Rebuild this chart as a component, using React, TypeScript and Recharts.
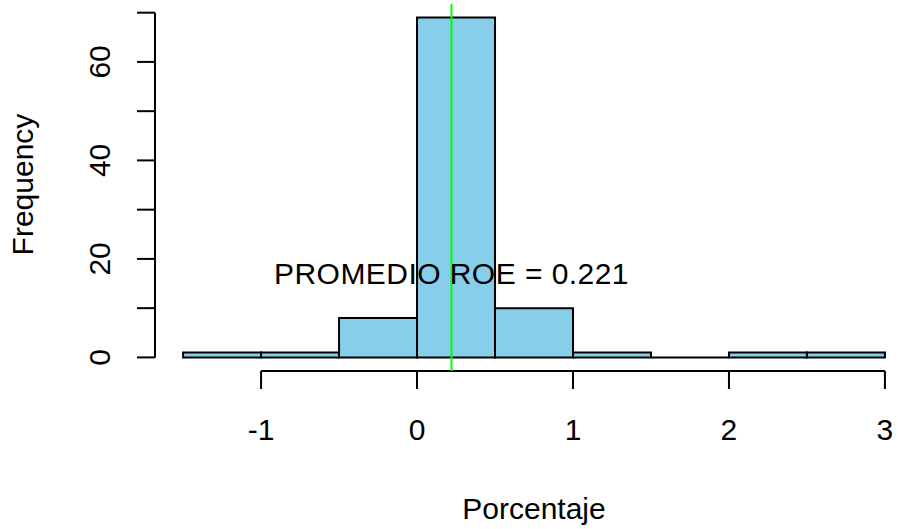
import React from 'react';
import {
  ComposedChart,
  Bar,
  XAxis,
  YAxis,
  ReferenceLine,
  ReferenceDot,
  Label,
} from 'recharts';

// histogram bins (midpoints) and their counts
const binMids = [-1.25, -0.75, -0.25, 0.25, 0.75, 1.25, 1.75, 2.25, 2.75];
const binCounts = [1, 1, 8, 69, 10, 1, 0, 1, 1];
const xTicks = [-1, 0, 1, 2, 3];
const yTicks = [0, 10, 20, 30, 40, 50, 60, 70];
const meanRoe = 0.221;
const labelY = 17;

const data = binMids.map((mid, i) => ({ mid, count: binCounts[i] }));

// R-style 4% padding around the data range
const xMin = -1.5 - 0.04 * 4.5;
const xMax = 3 + 0.04 * 4.5;
const yMin = -0.04 * 69;
const yMax = 69 + 0.04 * 69;

const FONT = "'Liberation Sans', Arial, sans-serif";

// drawn as a path so empty bins still show their outline
const HistRect = (props: any) => {
  const { x, y, width, height } = props;
  const h = Math.max(height || 0, 0);
  return (
    <path
      d={`M${x},${y} h${width} v${h} h${-width} Z`}
      fill="#87CEEB"
      stroke="#000"
      strokeWidth={2}
    />
  );
};

const XTick = ({ x, y, payload }: any) => (
  <text x={x} y={y} dy="0.71em" textAnchor="middle" fontSize={30} fontFamily={FONT} fill="#000">
    {payload.value}
  </text>
);

const YTick = ({ x, y, payload }: any) => {
  if (payload.value % 20 !== 0) return <g />;
  return (
    <text
      x={x}
      y={y}
      transform={`rotate(-90 ${x} ${y})`}
      textAnchor="middle"
      fontSize={30}
      fontFamily={FONT}
      fill="#000"
    >
      {payload.value}
    </text>
  );
};

export default function App() {
  return (
    <div style={{ position: 'absolute', left: 0, top: 0, background: '#fff' }}>
      <ComposedChart
        width={898}
        height={529}
        data={data}
        margin={{ top: 4, right: -15, bottom: 0, left: 0 }}
        barCategoryGap={0}
        barGap={0}
      >
        <XAxis
          dataKey="mid"
          type="number"
          domain={[xMin, xMax]}
          allowDataOverflow
          ticks={xTicks}
          height={158}
          axisLine={false}
          tickLine={{ stroke: '#000', strokeWidth: 2 }}
          tickSize={18}
          tickMargin={30}
          tick={<XTick />}
          label={
            <Label
              content={({ viewBox }: any) => (
                <text
                  x={viewBox.x + viewBox.width / 2}
                  y={viewBox.y + 148}
                  textAnchor="middle"
                  fontSize={30}
                  fontFamily={FONT}
                  fill="#000"
                >
                  Porcentaje
                </text>
              )}
            />
          }
        />
        <YAxis
          type="number"
          domain={[yMin, yMax]}
          allowDataOverflow
          ticks={yTicks}
          width={155}
          axisLine={false}
          tickLine={{ stroke: '#000', strokeWidth: 2 }}
          tickSize={18}
          tickMargin={27}
          tick={<YTick />}
          label={
            <Label
              content={({ viewBox }: any) => {
                const lx = viewBox.x + 33;
                const ly = viewBox.y + viewBox.height / 2 - 3;
                return (
                  <text
                    x={lx}
                    y={ly}
                    transform={`rotate(-90 ${lx} ${ly})`}
                    textAnchor="middle"
                    fontSize={30}
                    fontFamily={FONT}
                    fill="#000"
                  >
                    Frequency
                  </text>
                );
              }}
            />
          }
        />
        <Bar dataKey="count" shape={<HistRect />} isAnimationActive={false} />
        {/* axis lines span only the tick range, as in base R graphics */}
        <ReferenceLine
          segment={[{ x: xTicks[0], y: yMin }, { x: xTicks[xTicks.length - 1], y: yMin }]}
          stroke="#000"
          strokeWidth={2}
          ifOverflow="visible"
        />
        <ReferenceLine
          segment={[{ x: xMin, y: yTicks[0] }, { x: xMin, y: yTicks[yTicks.length - 1] }]}
          stroke="#000"
          strokeWidth={2}
          ifOverflow="visible"
        />
        <ReferenceDot
          x={meanRoe}
          y={labelY}
          r={0}
          fill="none"
          stroke="none"
          ifOverflow="visible"
          label={{
            value: `PROMEDIO ROE = ${meanRoe}`,
            position: 'center',
            fontSize: 30,
            fontFamily: FONT,
            letterSpacing: 0.45,
            fill: '#000',
          }}
        />
        <ReferenceLine x={meanRoe} stroke="#00FF00" strokeWidth={2} />
      </ComposedChart>
    </div>
  );
}
